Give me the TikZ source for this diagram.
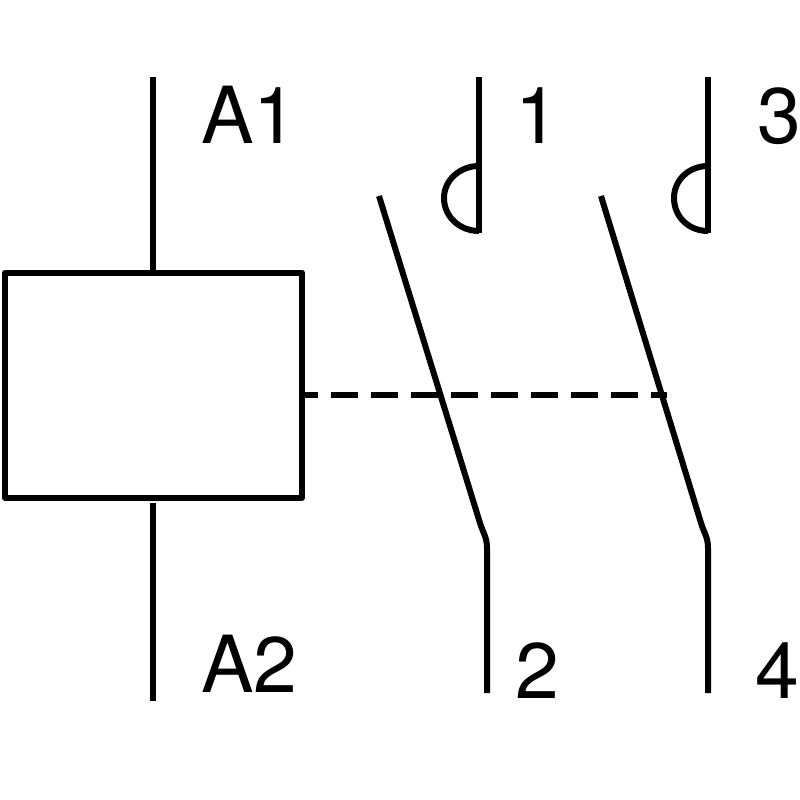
\documentclass[tikz,border=0pt]{standalone}
\usepackage{fontspec}
\setmainfont{TeX Gyre Heros}
\newcommand{\pxx}{0.0375}
\tikzset{x=\pxx cm,y=-\pxx cm,
 wire/.style={line width=6.4pt,black,line join=round},
 lbl/.style={font=\fontsize{84}{84}\selectfont,inner sep=0pt,text=black,anchor=base west}}
\begin{document}
\begin{tikzpicture}
\useasboundingbox (0,0) rectangle (800,800);
\fill[white] (0,0) rectangle (800,800);
\node[draw,wire,fill=white,minimum width=297*\pxx cm,minimum height=225*\pxx cm,inner sep=0pt] (coil) at (153.5,385.2) {};
\coordinate (a1t) at (153,77);
\coordinate (a2t) at (153,503); \coordinate (a2b) at (153,701);
\draw[wire] (a1t) -- (coil.north -| a1t);
\draw[wire] (a2t) -- (a2b);
\coordinate (t1) at (479,77); \coordinate (t1b) at (479,233);
\draw[wire] (t1) -- (t1b);
\draw[wire] (479,231) .. controls (460,231) and (444,217) .. (444,198) .. controls (444,180) and (460,166) .. (479,166);
\coordinate (t3) at (708,77); \coordinate (t3b) at (708,233);
\draw[wire] (t3) -- (t3b);
\draw[wire] (708,231) .. controls (689,231) and (674,217) .. (674,198) .. controls (674,180) and (689,166) .. (708,166);
\coordinate (s1) at (379,196); \coordinate (s1m) at (480,523); \coordinate (s1e) at (487,693);
\draw[wire] (s1) -- (s1m) .. controls (483,533) and (487,537) .. (487,548) -- (s1e);
\coordinate (s2) at (601,196); \coordinate (s2m) at (701,523); \coordinate (s2e) at (708,693);
\draw[wire] (s2) -- (s2m) .. controls (704,533) and (708,537) .. (708,548) -- (s2e);
\coordinate (d1) at (667,395);
\draw[wire,dash pattern=on 28.8pt off 13.9pt,dash phase=15pt] (coil.east |- d1) -- (d1);
\node[lbl] (la1) at (201,143) {A1};
\node[lbl] (la2) at (201,692) {A2};
\node[lbl] (l1) at (515,143) {1};
\node[lbl] (l3) at (757,143) {3};
\node[lbl] (l2) at (515,698) {2};
\node[lbl] (l4) at (755,698) {4};
\end{tikzpicture}
\end{document}
